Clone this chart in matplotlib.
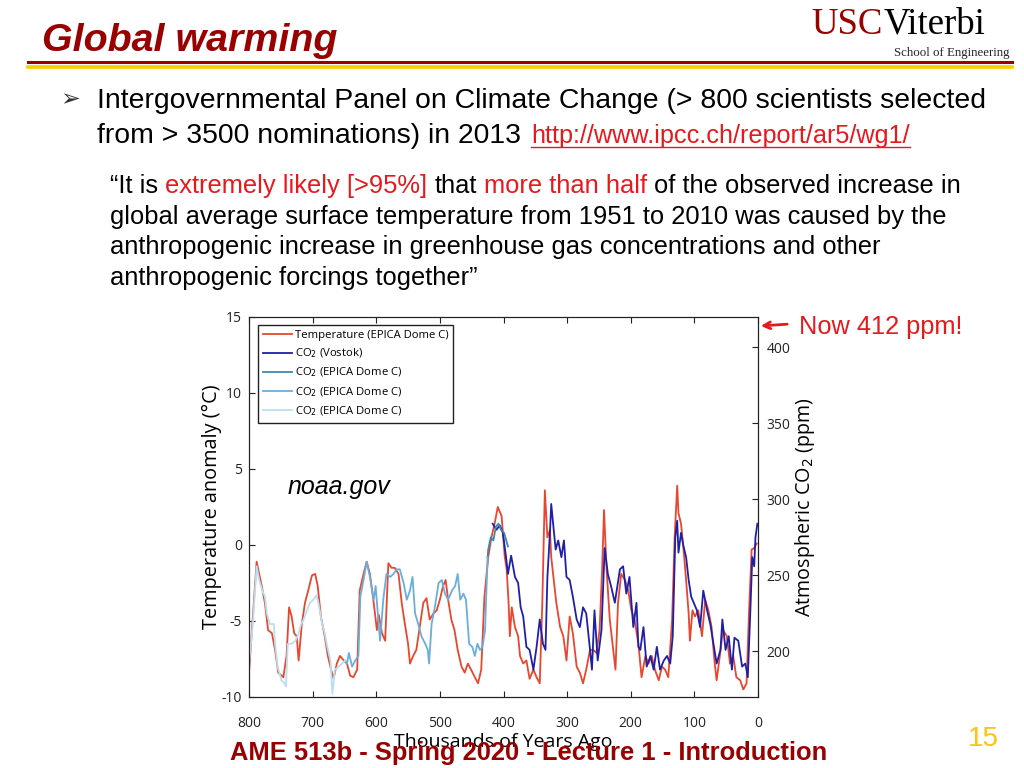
import matplotlib
matplotlib.use('Agg')
import matplotlib.pyplot as plt
from matplotlib.lines import Line2D

plt.rcParams['axes.unicode_minus'] = False

# ---------------- data ----------------
# Temperature anomaly (EPICA Dome C), thousands of years ago / deg C
temp_age = [800, 796, 788, 780, 775, 770, 764, 759, 754, 746, 741, 737, 733, 729, 725, 722,
            717, 712, 707, 701, 696, 692, 687, 681, 676, 671, 667, 662, 657, 651, 646, 641,
            636, 630, 626, 620, 615, 610, 604, 599, 596, 591, 586, 581, 576, 571, 565, 560,
            555, 550, 547, 542, 537, 531, 526, 521, 516, 510, 505, 500, 495, 491, 487, 482,
            477, 472, 466, 461, 456, 451, 445, 440, 435, 430, 424, 419, 414, 409, 403, 398,
            395, 392, 390, 387, 382, 377, 374, 369, 364, 359, 353, 348, 343, 339, 335, 331,
            327, 325, 320, 317, 311, 306, 301, 296, 291, 285, 280, 275, 270, 264, 259, 254,
            249, 245, 242, 238, 233, 228, 224, 220, 215, 209, 204, 199, 194, 190, 188, 183,
            177, 172, 167, 162, 156, 151, 146, 141, 135, 131, 127, 125, 121, 117, 113, 109,
            107, 103, 99, 94, 88, 83, 78, 73, 68, 65, 60, 55, 49, 44, 39, 34,
            28, 23, 18, 14, 10, 6, 2]
temp_val = [-8.4, -6.0, -1.1, -2.7, -3.8, -5.6, -5.8, -6.9, -8.4, -8.7, -7.3, -4.1, -4.7, -5.8, -6.0, -7.6,
            -5.2, -3.8, -3.0, -2.0, -1.9, -2.7, -4.7, -6.0, -7.3, -8.2, -8.8, -7.8, -7.3, -7.6, -7.8, -8.6,
            -8.7, -8.2, -3.0, -1.9, -1.1, -1.9, -3.8, -5.6, -4.6, -5.8, -6.3, -1.2, -1.5, -1.5, -1.9, -3.8,
            -5.2, -6.5, -7.8, -7.3, -6.9, -5.2, -3.8, -3.5, -4.9, -4.5, -4.3, -3.6, -2.7, -2.3, -3.6, -4.9,
            -5.6, -6.9, -8.0, -8.4, -7.8, -8.2, -8.7, -9.1, -8.2, -3.4, -0.8, 0.5, 1.4, 2.5, 1.9, -0.8,
            -1.6, -3.8, -6.0, -4.1, -5.4, -6.0, -7.3, -7.8, -7.6, -8.8, -8.2, -8.7, -9.1, -3.8, 3.6, 0.5,
            1.0, -0.8, -2.7, -3.8, -5.4, -6.0, -7.6, -4.7, -5.8, -8.0, -8.4, -9.1, -8.2, -6.9, -6.9, -7.1,
            -5.6, -1.6, 2.3, -1.6, -4.9, -6.7, -8.2, -3.8, -1.9, -2.3, -3.0, -4.3, -4.9, -6.0, -6.5, -8.7,
            -7.3, -7.8, -7.3, -8.2, -8.9, -8.0, -8.2, -8.7, -4.9, 0.5, 3.9, 2.1, 1.4, -0.3, -2.3, -4.5,
            -6.3, -4.3, -4.7, -4.3, -6.0, -3.6, -4.3, -5.4, -7.8, -8.9, -7.3, -5.6, -6.0, -7.8, -7.3, -8.7,
            -8.9, -9.5, -9.1, -4.3, -0.3, -0.2, 0.1]

# CO2 (Vostok), ppm
vostok_age = [417, 411, 406, 401, 396, 393, 388, 382, 377, 373, 369, 364, 359, 353, 348, 343,
              338, 334, 331, 327, 325, 322, 318, 314, 309, 305, 301, 296, 291, 285, 280, 275,
              270, 264, 261, 257, 252, 246, 241, 236, 231, 225, 217, 212, 207, 202, 196, 191,
              188, 185, 180, 175, 169, 164, 159, 154, 148, 143, 138, 134, 130, 127, 125, 121,
              117, 113, 109, 105, 101, 96, 91, 86, 80, 75, 70, 65, 59, 56, 51, 46,
              41, 37, 31, 25, 20, 16, 12, 9, 6, 4, 1]
vostok_co2 = [284, 280, 283, 278, 262, 251, 263, 249, 245, 229, 223, 203, 201, 188, 203, 221,
              205, 201, 249, 278, 297, 284, 267, 273, 262, 273, 249, 247, 236, 221, 216, 229,
              225, 201, 188, 227, 194, 214, 268, 251, 243, 232, 254, 256, 238, 249, 216, 232,
              203, 201, 216, 190, 197, 188, 203, 188, 194, 197, 192, 210, 275, 286, 265, 278,
              269, 262, 247, 236, 232, 227, 216, 240, 227, 218, 205, 192, 201, 221, 201, 210,
              188, 209, 207, 190, 192, 183, 227, 262, 256, 275, 284]

# CO2 (EPICA Dome C), three pieces
epica1_age = [425, 424, 420, 416, 412, 408, 404, 399, 393]
epica1_co2 = [262, 267, 275, 273, 282, 284, 280, 278, 269]

epica2_age = [649, 646, 643, 638, 633, 628, 625, 620, 615, 610, 604, 601, 597, 594, 589, 584,
              578, 573, 568, 563, 557, 552, 547, 543, 539, 534, 529, 523, 519, 517, 513, 508,
              502, 497, 492, 487, 481, 476, 472, 468, 463, 459, 454, 449, 445, 441, 437, 433,
              429, 425]
epica2_co2 = [194, 192, 199, 190, 194, 197, 236, 247, 259, 249, 234, 243, 222, 207, 234, 251,
              249, 251, 254, 254, 245, 234, 240, 249, 225, 218, 210, 205, 201, 192, 218, 229,
              245, 247, 238, 234, 240, 243, 251, 234, 238, 234, 205, 203, 197, 205, 201, 203,
              214, 262]

epica3_age = [800, 794, 788, 784, 779, 775, 772, 767, 761, 759, 755, 749, 744, 742, 739, 733,
              727, 722, 718, 714, 709, 704, 699, 694, 691, 685, 681, 678, 672, 669, 665, 659,
              654, 649]
epica3_co2 = [192, 218, 256, 247, 240, 236, 225, 218, 218, 205, 190, 181, 179, 177, 205, 205,
              207, 212, 218, 221, 227, 232, 234, 237, 232, 218, 212, 205, 194, 172, 188, 190,
              192, 194]

series_labels = ['Temperature (EPICA Dome C)', 'CO$_2$ (Vostok)', 'CO$_2$ (EPICA Dome C)',
                 'CO$_2$ (EPICA Dome C)', 'CO$_2$ (EPICA Dome C)']
series_colors = ['#e8462f', '#1f1fa8', '#3f88ad', '#6aaedc', '#b9dff5']

W, H = 1024, 768
DARK_RED = '#990000'
RED = '#e8191c'
SANS = 'Liberation Sans'

fig = plt.figure(figsize=(W / 100, H / 100), dpi=100)
renderer = fig.canvas.get_renderer()


def fx(x):
    return x / W


def fy(y):
    return 1 - y / H


def text_w(s, size, **kw):
    t = fig.text(0, 0, s, fontsize=size, **kw)
    w = t.get_window_extent(renderer).width
    t.remove()
    return w


def put_runs(x, y, runs, size, family=SANS):
    # draw pieces of one line in different colours, one space between pieces
    space = text_w('a a', size, family=family) - text_w('aa', size, family=family)
    for s, c in runs:
        fig.text(fx(x), fy(y), s, fontsize=size, color=c, family=family, va='baseline')
        x += text_w(s, size, family=family) + space
    return x


# ---------------- slide header ----------------
fig.text(fx(42), fy(51), 'Global warming', fontsize=28.4, fontweight='bold', fontstyle='italic',
         color=DARK_RED, family=SANS, va='baseline')
fig.add_artist(Line2D([fx(28), fx(1012)], [fy(62), fy(62)], color=DARK_RED, lw=2.2))
fig.add_artist(Line2D([fx(28), fx(1012)], [fy(67), fy(67)], color='#ffcc00', lw=2.6))

usc_w = text_w('USC', 26.5, family='Liberation Serif')
fig.text(fx(811), fy(34), 'USC', fontsize=26.5, color=DARK_RED, family='Liberation Serif',
         va='baseline')
fig.text(fx(812 + usc_w), fy(34), 'Viterbi', fontsize=26.5, color='black',
         family='Liberation Serif', va='baseline')
fig.text(fx(1010), fy(56), 'School of Engineering', fontsize=9.3, color='#222222',
         family='Liberation Serif', va='baseline', ha='right')

# ---------------- bullet text ----------------
fig.text(fx(60), fy(106), '\u27a2', fontsize=17, family=['DejaVu Sans'], va='baseline',
         color='#333333')
put_runs(97, 108, [('Intergovernmental Panel on Climate Change (> 800 scientists selected', 'black')], 20.4)
x_end = put_runs(97, 143, [('from > 3500 nominations) in 2013', 'black')], 20.4)
link = 'http://www.ipcc.ch/report/ar5/wg1/'
fig.text(fx(x_end + 2), fy(143), link, fontsize=18.2, color=RED, family=SANS, va='baseline')
lw_link = text_w(link, 18.2, family=SANS)
fig.add_artist(Line2D([fx(x_end + 2), fx(x_end + 2 + lw_link)], [fy(147), fy(147)],
                      color=RED, lw=1.0))

q = 18.4
put_runs(110, 193, [('\u201cIt is', 'black'), ('extremely likely [>95%]', RED), ('that', 'black'),
                    ('more than half', RED), ('of the observed increase in', 'black')], q)
put_runs(110, 224, [('global average surface temperature from 1951 to 2010 was caused by the', 'black')], q)
put_runs(110, 254, [('anthropogenic increase in greenhouse gas concentrations and other', 'black')], q)
put_runs(110, 285, [('anthropogenic forcings together\u201d', 'black')], q)

# ---------------- chart ----------------
ax = fig.add_axes([fx(249), fy(697), fx(758) - fx(249), fy(317) - fy(697)])
ax2 = ax.twinx()

l0, = ax.plot(temp_age, temp_val, color=series_colors[0], lw=1.3)
l1, = ax2.plot(vostok_age, vostok_co2, color=series_colors[1], lw=1.3)
l2, = ax2.plot(epica1_age, epica1_co2, color=series_colors[2], lw=1.3)
l3, = ax2.plot(epica2_age, epica2_co2, color=series_colors[3], lw=1.3)
l4, = ax2.plot(epica3_age, epica3_co2, color=series_colors[4], lw=1.3)

ax.set_xlim(800, 0)
ax.set_ylim(-10, 15)
ax2.set_ylim(170, 420)
ax.set_xticks([800, 700, 600, 500, 400, 300, 200, 100, 0])
ax.set_yticks([-10, -5, 0, 5, 10, 15])
ax2.set_yticks([200, 250, 300, 350, 400])

chart_font = 'Open Sans'
for a in (ax, ax2):
    a.tick_params(direction='in', labelsize=10, length=4, colors='#222222', pad=6)
    for lab in a.get_xticklabels() + a.get_yticklabels():
        lab.set_family(chart_font)
    for s in a.spines.values():
        s.set_color('#222222')
ax.tick_params(axis='x', top=True, pad=14)
ax.tick_params(axis='y', pad=5)

ax.set_xlabel('Thousands of Years Ago', fontsize=14, family=chart_font, labelpad=1)
ax.set_ylabel('Temperature anomaly (\u00b0C)', fontsize=14.3, family=chart_font, labelpad=-0.5)
ax2.set_ylabel('Atmospheric CO$_2$ (ppm)', fontsize=14.2, family=chart_font, labelpad=2)

leg = ax2.legend([l0, l1, l2, l3, l4], series_labels, loc='upper left',
                 bbox_to_anchor=(0.0177, 0.979), prop={'family': chart_font, 'size': 8.1},
                 frameon=True, fancybox=False, edgecolor='#222222', framealpha=1,
                 labelspacing=0.5, handlelength=2.6, handletextpad=0.2, borderpad=0.45,
                 borderaxespad=0)
leg.get_frame().set_linewidth(1.0)

fig.text(fx(288), fy(494), 'noaa.gov', fontsize=18, fontstyle='italic', family=SANS,
         va='baseline')

# "Now 412 ppm!" note
ax2.annotate('', xy=(0, 414), xycoords='data', xytext=(fx(790), fy(324)),
             textcoords='figure fraction',
             arrowprops=dict(arrowstyle='->', color=RED, lw=2, mutation_scale=12),
             annotation_clip=False)
fig.text(fx(799), fy(334), 'Now 412 ppm!', fontsize=18.3, color=RED, family=SANS, va='baseline')

# ---------------- footer ----------------
fig.text(fx(230), fy(760), 'AME 513b - Spring 2020 - Lecture 1 - Introduction', fontsize=18.4,
         fontweight='bold', color=DARK_RED, family=SANS, va='baseline')
fig.text(fx(968), fy(746), '15', fontsize=20, color='#ffc20e', family=SANS, va='baseline')

fig.savefig('out.png', dpi=100)
